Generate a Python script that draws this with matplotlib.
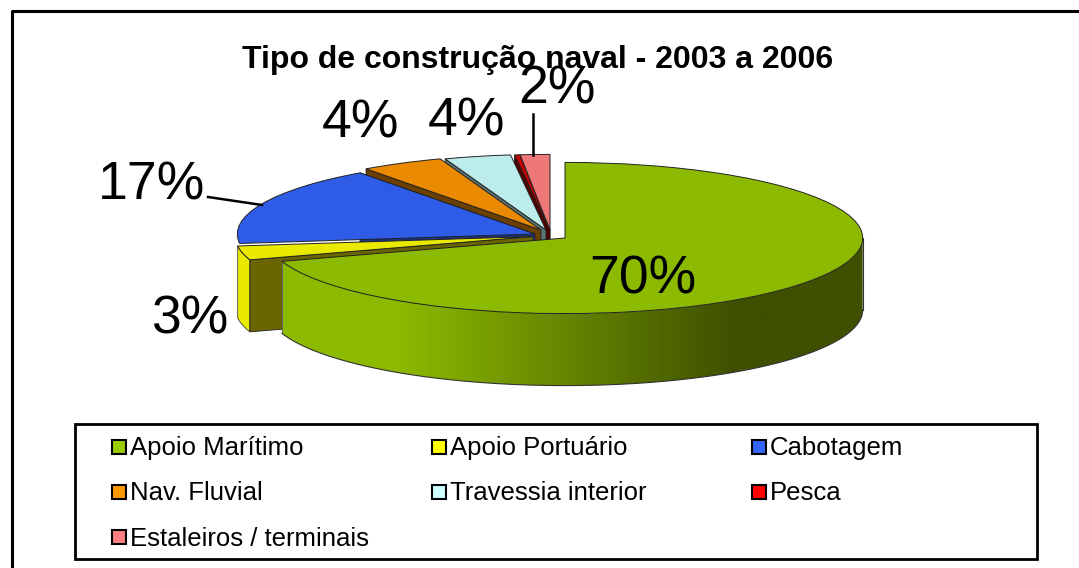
import numpy as np
import matplotlib
matplotlib.use("Agg")
import matplotlib.pyplot as plt
from matplotlib.colors import LinearSegmentedColormap
from matplotlib.lines import Line2D
from matplotlib.patches import Polygon, Rectangle
from matplotlib.transforms import Affine2D

categories = ["Apoio Marítimo", "Apoio Portuário", "Cabotagem", "Nav. Fluvial",
              "Travessia interior", "Pesca", "Estaleiros / terminais"]
values = [70.0, 3.0, 17.0, 4.5, 3.6, 0.3, 1.6]
value_labels = ["70%", "3%", "17%", "4%", "4%", "", "2%"]
top_colors = ["#8cba00", "#eaea00", "#2e5ce6", "#ea8a00", "#bcecec", "#c00000", "#ee7777"]
wall_colors = ["#3f5000", "#6b6500", "#1a2f80", "#6b3f00", "#5a7474", "#500000", "#803030"]
legend_colors = ["#99cc00", "#ffff00", "#3366ff", "#ff9900", "#ccffff", "#ff0000", "#ff8080"]

W, H = 1079, 568
CX, CY, RX, RY = 550, 235, 315, 80
DEPTH = 72 / RY

plt.rcParams['font.family'] = ['Liberation Sans', 'DejaVu Sans']
fig = plt.figure(figsize=(W / 100, H / 100), dpi=100)
ax = fig.add_axes([0, 0, 1, 1])

# everything outside the pie is placed in image pixels
px = Affine2D().scale(1 / W, -1 / H).translate(0, 1) + fig.transFigure

wedges, _ = ax.pie(values, colors=top_colors, startangle=90, counterclock=False, radius=0.945,
                   wedgeprops=dict(edgecolor="#222222", linewidth=0.7))
ax.set_aspect('auto')

apexes = [(565, 238), (533, 236.5), (535, 234), (541, 230), (546, 230), (550, 230), (550, 230)]
for w, (ax_px, ay_px) in zip(wedges, apexes):
    w.set_center(((ax_px - CX) / RX, (CY - ay_px) / RY))
    w.set_zorder(3)


def arc(w, a, b, n=2):
    t = np.radians(np.linspace(a, b, n))
    cx, cy = w.center
    return cx + w.r * np.cos(t), cy + w.r * np.sin(t)


def cut_wall(w, angle, color, z):
    x, y = arc(w, angle, angle)
    cx, cy = w.center
    pts = [(cx, cy), (x[0], y[0]), (x[0], y[0] - DEPTH), (cx, cy - DEPTH)]
    ax.add_patch(Polygon(pts, closed=True, facecolor=color, edgecolor="#222222",
                         linewidth=0.6, zorder=z))


# walls of the back slices, hidden in part by the slices in front
for i in [6, 5, 4, 3]:
    cut_wall(wedges[i], wedges[i].theta2, wall_colors[i], 1.8)
cut_wall(wedges[2], wedges[2].theta1, wall_colors[2], 1.9)
wedges[2].set_zorder(3.1)
wedges[1].set_zorder(3.2)

# yellow slice: outer wall and cut wall
yellow = wedges[1]
x, y = arc(yellow, yellow.theta1, yellow.theta2, 30)
ax.add_patch(Polygon(list(zip(x, y)) + list(zip(x[::-1], y[::-1] - DEPTH)), closed=True,
                     facecolor=top_colors[1], edgecolor="#444444", linewidth=0.6, zorder=2))
cut_wall(yellow, yellow.theta2, wall_colors[1], 2.5)

# green outer wall, shaded from left to right
green = wedges[0]
shade = LinearSegmentedColormap.from_list(
    "shade", [(0, "#8cba00"), (0.2, "#8cba00"), (0.78, "#3f5000"), (1, "#3f5000")])
gx, gy = arc(green, green.theta1 + 360, 360, 240)
wall = Polygon(list(zip(gx, gy)) + list(zip(gx[::-1], gy[::-1] - DEPTH)), closed=True,
               facecolor="none", edgecolor="none", transform=ax.transData)
ax.add_patch(wall)
im = ax.imshow(np.linspace(0, 1, 800)[None, :], cmap=shade, aspect='auto', zorder=3.5,
               extent=(gx.min(), gx.max(), (gy - DEPTH).min(), gy.max()))
im.set_clip_path(wall)
ax.plot(gx, gy - DEPTH, color="#333333", lw=0.8, zorder=3.6)
ax.plot([gx[-1], gx[-1]], [gy[-1], gy[-1] - DEPTH], color="#333333", lw=0.8, zorder=3.6)
ax.plot([gx[0], gx[0]], [gy[0], gy[0] - DEPTH], color="#555555", lw=0.6, zorder=3.6)
green.set_zorder(4)

ax.set_xlim(-CX / RX, (W - CX) / RX)
ax.set_ylim((CY - H) / RY, CY / RY)

# title, labels and leader lines
ax.text(538, 60, "Tipo de construção naval - 2003 a 2006", transform=px, ha="center", va="center",
        fontsize=23, fontweight="bold", zorder=6)
label_pos = [(643, 280), (190, 320), (152, 185), (360, 123), (466, 121), None, (557, 89)]
for lab, p in zip(value_labels, label_pos):
    if p is not None:
        ax.text(p[0], p[1], lab, transform=px, ha="center", va="center", fontsize=38.5, zorder=7)
for xs, ys in [((208, 262), (197, 205)), ((533, 533), (114, 155))]:
    fig.add_artist(Line2D(xs, ys, transform=px, color="black", lw=1.8, zorder=5))

# outer frame has only its top and left sides, legend box is closed
fig.add_artist(Line2D((12, 12, W), (H, 11, 11), transform=px, color="black", lw=2.2))
fig.add_artist(Rectangle((75, 424), 962, 135, transform=px, fill=False, edgecolor="black", lw=2))
for i, (name, col) in enumerate(zip(categories, legend_colors)):
    x0 = 112 + 320 * (i % 3)
    y0 = 447 + 45 * (i // 3)
    fig.add_artist(Rectangle((x0, y0 - 7), 14, 14, transform=px, facecolor=col, edgecolor="black", lw=1.5))
    ax.text(x0 + 18, y0 + 1.5, name, transform=px, ha="left", va="center", fontsize=18.5, zorder=7)

fig.savefig("out.png", dpi=100)
